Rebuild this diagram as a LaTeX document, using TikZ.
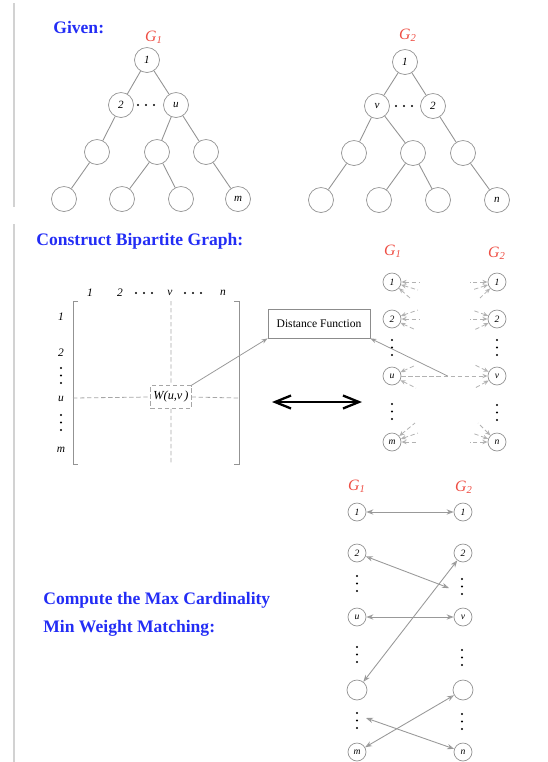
\documentclass[tikz,border=0pt]{standalone}
\usepackage{fontspec}
\setmainfont{Liberation Serif}
\usetikzlibrary{positioning, arrows.meta, calc}
\definecolor{titleblue}{RGB}{35,45,245}
\definecolor{labelred}{RGB}{238,78,68}
\tikzset{
    vertex/.style = {
        draw = gray!85, circle, inner sep = 0pt,
        minimum size = 0.5cm,
        font = \fontsize{6.3}{7}\selectfont\itshape
    },
    bnode/.style = {vertex, minimum size = 0.36cm, font = \fontsize{5.5}{6}\selectfont\itshape},
    treeline/.style = {gray!85, line width = 0.5pt},
    title/.style = {text = titleblue, inner sep = 0pt, anchor = west,
        font = \fontsize{10}{15.9}\selectfont\bfseries},
    glabel/.style = {text = labelred, inner sep = 0pt, font = \fontsize{9}{10}\selectfont\itshape},
    idx/.style = {inner sep = 0pt, font = \fontsize{6.5}{7}\selectfont\itshape},
    bracket/.style = {gray!85, line width = 0.5pt},
    crossline/.style = {gray!70, dashed, dash pattern = on 2.5pt off 1.5pt, line width = 0.45pt},
    wbox/.style = {draw = gray!70, dashed, dash pattern = on 2.5pt off 1.5pt,
        inner xsep = 1.5pt, minimum height = 0.38cm, font = \fontsize{7}{8}\selectfont\itshape},
    distbox/.style = {draw = gray!90, minimum width = 2.04cm, minimum height = 0.58cm,
        font = \fontsize{6.6}{7}\selectfont},
    link/.style = {gray!80, line width = 0.45pt, -{Stealth[open, length = 3.5pt, width = 2.5pt]}},
    stub/.style = {gray!60, dashed, dash pattern = on 2.5pt off 1.5pt, line width = 0.45pt,
        {Stealth[open, length = 3pt, width = 2.5pt]}-},
    matchline/.style = {gray!80, line width = 0.5pt,
        {Stealth[open, length = 4pt, width = 3pt]}-{Stealth[open, length = 4pt, width = 3pt]}},
    bigarrow/.style = {black, line width = 1.3pt,
        {Straight Barb[length = 3.2mm, width = 2.6mm]}-{Straight Barb[length = 3.2mm, width = 2.6mm]}}
}

\begin{document}
\begin{tikzpicture}[x = 0.02cm, y = -0.02cm]
\useasboundingbox (0,0) rectangle (548,762);

% side rule
\draw[gray!35, line width = 1.2pt] (14,3) -- (14,207) (14,224) -- (14,762);

% Given
\node[title] (given) at (53,28) {Given:};

% Tree G1
\node[glabel] (g1) at (154,37) {G\textsubscript{1}};
\node[vertex] (a1) at (147,60) {1};
\node[vertex] (a2) at (121,105) {2};
\node[vertex] (au) at (176,105) {u};
\node[vertex] (a31) at (97,152) {};
\node[vertex] (a32) at (157,152) {};
\node[vertex] (a33) at (206,152) {};
\node[vertex] (a41) at (64,199) {};
\node[vertex] (a42) at (122,199) {};
\node[vertex] (a43) at (181,199) {};
\node[vertex] (am) at (238,199) {m};
\draw[treeline] (a1) -- (a2) (a1) -- (au) (a2) -- (a31) (au) -- (a32) (au) -- (a33)
    (a31) -- (a41) (a32) -- (a42) (a32) -- (a43) (a33) -- (am);

% Tree G2
\node[glabel] (g2) at (408,35) {G\textsubscript{2}};
\node[vertex] (b1) at (405,62) {1};
\node[vertex] (bv) at (377,106) {v};
\node[vertex] (b2) at (433,106) {2};
\node[vertex] (b31) at (354,153) {};
\node[vertex] (b32) at (413,153) {};
\node[vertex] (b33) at (463,153) {};
\node[vertex] (b41) at (321,200) {};
\node[vertex] (b42) at (379,200) {};
\node[vertex] (b43) at (438,200) {};
\node[vertex] (bn) at (497,200) {n};
\draw[treeline] (b1) -- (bv) (b1) -- (b2) (bv) -- (b31) (bv) -- (b32) (b2) -- (b33)
    (b31) -- (b41) (b32) -- (b42) (b32) -- (b43) (b33) -- (bn);

% horizontal dots
\foreach \x/\y in {146/105, 404/106, 144/293, 193/293}
    \foreach \d in {-8,0,8}
        \fill (\x+\d,\y) circle (1.2);

% Construct
\node[title] (construct) at (36,241) {Construct Bipartite Graph:};

% Weight matrix
\draw[bracket] (78,301) -| (73,464) -- (78,464);
\draw[bracket] (234,301) -| (239,464) -- (234,464);
\node[idx] (c1) at (90,293) {1};
\node[idx] (c2) at (120,293) {2};
\node[idx] (cv) at (170,293) {v};
\node[idx] (cn) at (223,293) {n};
\node[idx] (r1) at (61,317) {1};
\node[idx] (r2) at (61,353) {2};
\node[idx] (ru) at (61,399) {u};
\node[idx] (rm) at (61,450) {m};
\node[wbox] (w) at (171,397) {W(u,v\,)};
\draw[crossline] (171,301) -- (w.north) (w.south) -- (171,464)
    (73,398) -- (w.west) (w.east) -- (239,398);

% Distance Function
\node[distbox] (dist) at (319,323.5) {Distance Function};
\draw[link] (w.north east) -- (dist.south west);

% Double arrow
\coordinate (la) at (272,402);
\coordinate (ra) at (362,402);
\draw[bigarrow] (la) -- (ra);

% Bipartite graph
\node[glabel] (h1) at (393,251) {G\textsubscript{1}};
\node[glabel] (h2) at (497,253) {G\textsubscript{2}};
\node[bnode] (p1) at (392,282) {1};
\node[bnode] (p2) at (392,319) {2};
\node[bnode] (pu) at (392,376) {u};
\node[bnode] (pm) at (392,442) {m};
\node[bnode] (q1) at (497,282) {1};
\node[bnode] (q2) at (497,319) {2};
\node[bnode] (qv) at (497,376) {v};
\node[bnode] (qn) at (497,442) {n};
\foreach \n/\dx/\dy in {p1/28/0, p1/26/8, p1/18/16, p2/26/-9, p2/28/0, p2/24/11,
    pu/24/-11, pu/24/12, pm/23/-19, pm/26/-9, pm/26/0,
    q1/-27/0, q1/-25/8, q1/-17/16, q2/-25/-9, q2/-27/0, q2/-23/11,
    qv/-22/-11, qv/-22/12, qn/-19/-19, qn/-25/-9, qn/-27/0}
    \draw[stub] (\n) -- +(\dx,\dy);
\draw[stub, -{Stealth[open, length = 3pt, width = 2.5pt]}] (pu) -- (qv);
\coordinate (mid) at ($(pu)!0.53!(qv)$);
\draw[link] (mid) -- (dist.south east);

% Compute
\node[title, align = left] (compute) at (43,614) {Compute the Max Cardinality\\Min Weight Matching:};

% Matching
\node[glabel] (k1) at (357,486) {G\textsubscript{1}};
\node[glabel] (k2) at (464,487) {G\textsubscript{2}};
\node[bnode] (s1) at (357,512) {1};
\node[bnode] (s2) at (357,553) {2};
\node[bnode] (su) at (357,617) {u};
\node[bnode, minimum size = 0.4cm] (sx) at (357,690) {};
\node[bnode] (sm) at (357,752) {m};
\node[bnode] (t1) at (463,512) {1};
\node[bnode] (t2) at (463,553) {2};
\node[bnode] (tv) at (463,617) {v};
\node[bnode, minimum size = 0.4cm] (tx) at (463,690) {};
\node[bnode] (tn) at (463,752) {n};
\coordinate (sdots) at (366,718);
\coordinate (tdots) at (449,588);
\draw[matchline] (s1) -- (t1);
\draw[matchline] (s2) -- (tdots);
\draw[matchline] (su) -- (tv);
\draw[matchline] (sx) -- (t2);
\draw[matchline] (sdots) -- (tn);
\draw[matchline] (sm) -- (tx);

% vertical dots
\foreach \x/\y in {392/340, 392/404, 497/340, 497/405,
    357/576, 357/647, 357/713, 462/579, 462/650, 462/714,
    61/368, 61/415}
    \foreach \d in {0,7.5,15}
        \fill (\x,\y+\d) circle (1.2);

\end{tikzpicture}
\end{document}
